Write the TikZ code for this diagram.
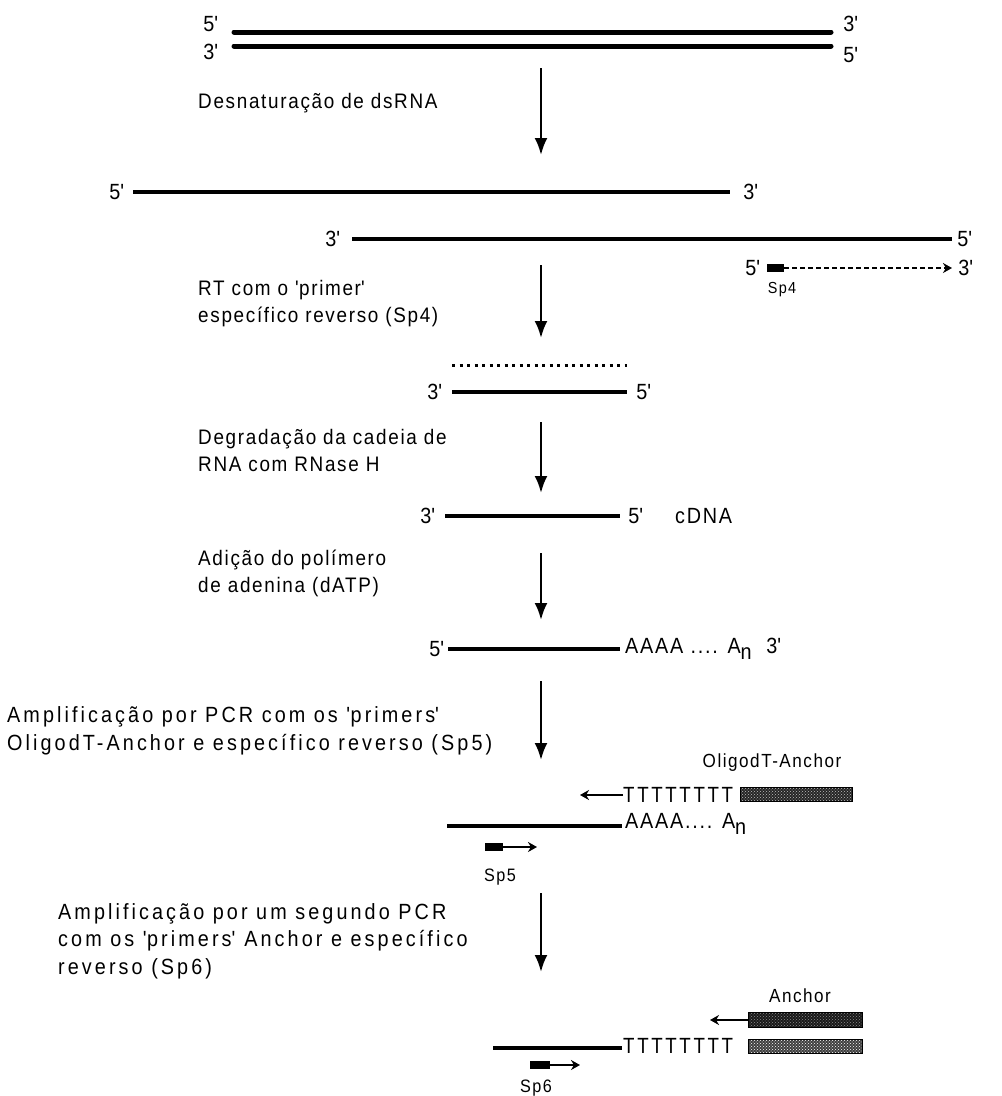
\documentclass[tikz,border=0pt]{standalone}
\usepackage{fontspec}
\setmainfont{Liberation Sans}
\newfontfamily\upfont[LetterSpace=8,FakeStretch=0.9]{Liberation Sans}
\newfontfamily\spfont[LetterSpace=14,FakeStretch=0.9]{Liberation Sans}
\newfontfamily\labfont[LetterSpace=8,FakeStretch=0.9]{Liberation Sans}
\newfontfamily\tfont[LetterSpace=12,FakeStretch=0.85]{Liberation Sans}
\usetikzlibrary{arrows.meta,patterns}
\newcommand\pr{\textquotesingle}
\newcommand\An{A\raisebox{-6pt}{n}}
\begin{document}
\begin{tikzpicture}[x=1pt,y=-1pt,
  txt/.style={anchor=west,inner sep=0pt,align=left,font=\upfont\fontsize{21}{27}\selectfont},
  txtb/.style={anchor=west,inner sep=0pt,align=left,font=\spfont\fontsize{22}{27.5}\selectfont},
  lab/.style={inner sep=0pt,font=\labfont\fontsize{22}{24}\selectfont},
  small/.style={inner sep=0pt,font=\labfont\fontsize{18}{22}\selectfont},
  trow/.style={anchor=west,inner sep=0pt,font=\tfont\fontsize{22}{24}\selectfont},
  strand/.style={line width=4pt},
  thick strand/.style={line width=5pt,line cap=round},
  dotline/.style={line width=3pt,dash pattern=on 3pt off 4.5pt},
  flow/.style={line width=2.5pt,-{Latex[length=17pt,width=13pt]}},
  sarr/.style={line width=1.6pt,-{Stealth[length=9pt,width=10pt]}},
  primer/.style={fill=black,inner sep=0pt,minimum height=8pt},
  hatchmid/.style={draw,line width=1pt,inner sep=0pt,minimum width=112pt,minimum height=14pt,preaction={fill=black!85},pattern=crosshatch dots,pattern color=black!25},
  hatchdark/.style={draw,line width=1pt,inner sep=0pt,minimum width=114pt,minimum height=15pt,preaction={fill=black!90},pattern=crosshatch dots,pattern color=black!45},
  hatchlight/.style={draw,line width=1pt,inner sep=0pt,minimum width=114pt,minimum height=14pt,preaction={fill=black!75},pattern=crosshatch dots,pattern color=white}
]
\useasboundingbox[fill=white] (0,0) rectangle (1002,1096);

% ---- double strand
\node[lab] (t1l) at (211,24) {5\pr};
\node[lab] (t2l) at (211,52) {3\pr};
\node[lab] (t1r) at (851,24) {3\pr};
\node[lab] (t2r) at (851,55) {5\pr};
\coordinate (t1a) at (234,32); \coordinate (t1b) at (831,32);
\coordinate (t2a) at (234,46); \coordinate (t2b) at (831,46);
\draw[thick strand] (t1a) -- (t1b);
\draw[thick strand] (t2a) -- (t2b);

\coordinate (a1s) at (541,68); \coordinate (a1e) at (541,155);
\draw[flow] (a1s) -- (a1e);
\node[txt] (s1) at (198,103) {Desnaturação de dsRNA};

% ---- separated strands
\node[lab] (r2l) at (117,192) {5\pr};
\node[lab] (r2r) at (751,192) {3\pr};
\coordinate (r2a) at (133,192); \coordinate (r2b) at (730,192);
\draw[strand] (r2a) -- (r2b);
\node[lab] (r3l) at (333,239) {3\pr};
\node[lab] (r3r) at (965,239) {5\pr};
\coordinate (r3a) at (352,239); \coordinate (r3b) at (952,239);
\draw[strand] (r3a) -- (r3b);

% Sp4
\node[lab] (p4l) at (753,268) {5\pr};
\node[primer,minimum width=17pt] (sp4) at (775.5,268) {};
\coordinate (p4e) at (952,268);
\draw[sarr,dash pattern=on 5pt off 3pt] (sp4.east) -- (p4e);
\node[lab] (p4r) at (966,268) {3\pr};
\node[small,font=\labfont\fontsize{16}{20}\selectfont] (sp4t) at (782,290) {Sp4};

\coordinate (a2s) at (541,265); \coordinate (a2e) at (541,338);
\draw[flow] (a2s) -- (a2e);
\node[txt] (s2) at (198,304) {RT com o \pr primer\pr\\específico reverso (Sp4)};

% RNA/cDNA hybrid
\coordinate (d1a) at (452,365); \coordinate (d1b) at (627,365);
\draw[dotline] (d1a) -- (d1b);
\node[lab] (h3) at (435,392) {3\pr};
\node[lab] (h5) at (644,392) {5\pr};
\coordinate (ha) at (452,392); \coordinate (hb) at (627,392);
\draw[strand] (ha) -- (hb);

\coordinate (a3s) at (541,422); \coordinate (a3e) at (541,493);
\draw[flow] (a3s) -- (a3e);
\node[txt] (s3) at (198,450) {Degradação da cadeia de\\RNA com RNase H};

% cDNA
\node[lab] (c3) at (428,516) {3\pr};
\node[lab] (c5) at (636,516) {5\pr};
\node[lab,anchor=west] (cd) at (675,516) {cDNA};
\coordinate (ca) at (445,516); \coordinate (cb) at (620,516);
\draw[strand] (ca) -- (cb);

\coordinate (a4s) at (541,553); \coordinate (a4e) at (541,620);
\draw[flow] (a4s) -- (a4e);
\node[txt] (s4) at (198,573) {Adição do polímero\\de adenina (dATP)};

% poly A
\node[lab] (pa5) at (437,649) {5\pr};
\coordinate (pa) at (448,649); \coordinate (pb) at (620,649);
\draw[strand] (pa) -- (pb);
\node[lab,anchor=west] (paA) at (625,649) {AAAA .... \An\ \ 3\pr};

\coordinate (a5s) at (541,681); \coordinate (a5e) at (541,760);
\draw[flow] (a5s) -- (a5e);
\node[txtb] (s5) at (7,731) {Amplificação por PCR com os \pr primers\pr\\OligodT-Anchor e específico reverso (Sp5)};

% first PCR
\node[lab,font=\labfont\fontsize{19}{22}\selectfont] (olt) at (772,763) {OligodT-Anchor};
\node[trow] (t5) at (623,795) {TTTTTTTT};
\node[hatchmid] (olr) at (796,794) {};
\coordinate (t5a) at (580,795);
\draw[sarr] (t5.west) -- (t5a);
\coordinate (qa) at (447,826); \coordinate (qb) at (622,826);
\draw[strand] (qa) -- (qb);
\node[lab,anchor=west] (qA) at (625,824) {AAAA.... \An};
\node[primer,minimum width=18pt] (sp5) at (494,847) {};
\coordinate (sp5e) at (537,847);
\draw[sarr] (sp5.east) -- (sp5e);
\node[small] (sp5t) at (500,877) {Sp5};

\coordinate (a6s) at (541,893); \coordinate (a6e) at (541,972);
\draw[flow] (a6s) -- (a6e);
\node[txtb] (s6) at (58,941) {Amplificação por um segundo PCR\\com os \pr primers\pr{} Anchor e específico\\reverso (Sp6)};

% second PCR
\node[lab,font=\labfont\fontsize{19}{22}\selectfont] (anc) at (800,996) {Anchor};
\node[hatchdark] (anr) at (805,1020) {};
\coordinate (ana) at (710,1020);
\draw[sarr] (anr.west) -- (ana);
\coordinate (wa) at (493,1048); \coordinate (wb) at (622,1048);
\draw[strand] (wa) -- (wb);
\node[trow] (t6) at (623,1046) {TTTTTTTT};
\node[hatchlight] (anl) at (805,1046) {};
\node[primer,minimum width=20pt] (sp6) at (540,1065) {};
\coordinate (sp6e) at (580,1065);
\draw[sarr] (sp6.east) -- (sp6e);
\node[small] (sp6t) at (536,1088) {Sp6};
\end{tikzpicture}
\end{document}
